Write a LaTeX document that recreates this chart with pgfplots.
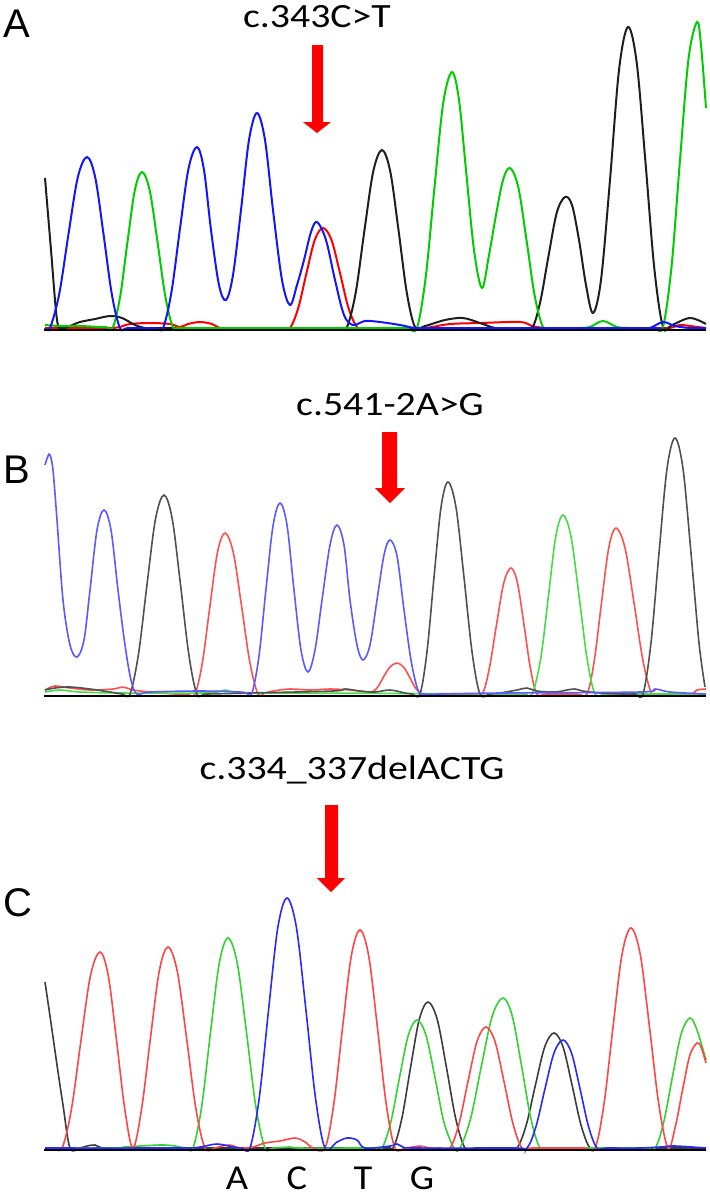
\documentclass[border=0pt]{standalone}
\usepackage{fontspec}
\setmainfont{Carlito}
\newfontfamily\panelfont{Liberation Sans}
\usepackage{graphicx}
\usepackage{pgfplots}
\pgfplotsset{compat=1.18}

\definecolor{tA}{RGB}{20,20,255}
\definecolor{gA}{RGB}{0,205,0}
\definecolor{kA}{RGB}{30,30,30}
\definecolor{rA}{RGB}{255,0,0}
\definecolor{tB}{RGB}{90,90,255}
\definecolor{gB}{RGB}{70,220,70}
\definecolor{kB}{RGB}{80,80,80}
\definecolor{rB}{RGB}{255,80,80}
\definecolor{tC}{RGB}{40,40,255}
\definecolor{gC}{RGB}{50,210,50}
\definecolor{kC}{RGB}{60,60,60}
\definecolor{rC}{RGB}{255,70,70}

\newcommand{\lab}[1]{\scalebox{1.17}[1]{\fontsize{17}{20}\selectfont #1}}
\newcommand{\base}[1]{\scalebox{1.1}[1]{\fontsize{17.5}{20}\selectfont #1}}

\begin{document}
\begin{tikzpicture}
\begin{axis}[
    width=354.5pt, height=598pt, scale only axis,
    xmin=0, xmax=709, ymin=0, ymax=1196, y dir=reverse,
    axis lines=none, clip=false,
    every axis plot/.append style={smooth, tension=0.55},
]
% keep the whole frame as the page
\path (rel axis cs:0,0) rectangle (rel axis cs:1,1);
% ---------- panel A ----------
\addplot[rA, line width=1pt] coordinates {
(45,328) (100,328) (112,328) (120,327) (130,324) (150,323) (170,324) (180,327) (188,324) (200,322) (212,324) (220,328)
(232,328) (270,328) (282,328) (290,328)
(298.25,308) (306.5,273) (314.75,240) (323,228) (331.5,240) (340,273) (348.5,308) (357,327)
(365,328) (377,328) (420,328) (432,327) (450,324) (480,323) (520,322) (532,326) (545,328) (557,328)
(658,328) (670,328) (680,325) (690,326) (706,328)};
\addplot[kA, line width=1pt] coordinates {
(45,178) (51,250) (57,320) (62,328) (70,326) (80,322) (95,319) (110,316) (122,318) (135,325) (145,328)
(157,328) (327,328) (339,328) (347,327)
(355.75,292.4) (364.5,230) (373.25,171.4) (382,150) (390.25,171.4) (398.5,230) (406.75,292.4) (415,327)
(425,326) (445,320) (463,318) (480,323) (495,328) (508,328) (520,328) (532,328)
(540.25,301.8) (548.5,256) (556.75,212.7) (565,197) (572,205) (579,240) (586,285) (593,313)
(601,280) (610,180) (619,70) (628,27) (636.75,63) (645.5,162.5) (654.25,267.8) (663,327)
(672,325) (690,318) (706,324)};
\addplot[gA, line width=1pt] coordinates {
(45,325) (60,326) (80,326) (100,327) (106,327) (113,327)
(120.25,296) (127.5,241.8) (134.75,190.6) (142,172) (149.75,190.6) (157.5,241.8) (165.25,296) (173,327)
(181,328) (193,328) (395,328) (408,328) (417,328)
(425.75,276.8) (434.5,187.2) (443.25,102.7) (452,72) (459,100) (466,170) (474,250) (482,288)
(489,255) (496,215) (503,180) (510,168) (518.25,187) (526.5,240) (534.75,296) (543,327)
(551,328) (565,328) (580,328) (590,327) (603,321) (617,327) (630,328) (645,328) (655,328) (663,327)
(671.5,267) (680,160) (688.5,59) (697,22) (701,45) (706,108)};
\addplot[tA, line width=1pt] coordinates {
(45,328) (50,328) (59.25,293.8) (68.5,234) (77.75,177.5) (87,157) (95.25,177.5) (103.5,234) (111.75,293.8) (120,328)
(128,328) (155,328) (163,328)
(171.5,291.8) (180,228.5) (188.5,168.7) (197,147) (204,170) (211,230) (219,285) (226,300)
(233,275) (241,210) (249,140) (257,113) (265,140) (273,210) (282,280) (290,305)
(297,285) (304,260) (311,232) (317,222) (326,240) (335,280) (344,315) (353,325)
(365,321) (380,322) (400,325) (415,328) (430,328) (640,328) (650,328) (663,322) (675,326) (690,328) (706,328)};
\addplot[black, line width=0.9pt, sharp plot] coordinates {(44,330) (706,330)};
% ---------- panel B ----------
\addplot[rB, line width=0.8pt] coordinates {
(45,690) (55,686) (70,688) (90,690) (113,689) (123,687) (133,690) (150,692) (175,694) (187,694) (195,694)
(202.5,661.8) (210,605.5) (217.5,552.3) (225,533) (233.25,552.3) (241.5,605.5) (249.75,661.8) (258,694)
(265,693) (273,691) (290,689) (310,690) (330,689) (350,690) (370,692)
(377,688) (383.5,677) (390,667) (397,663) (403.5,667) (409.5,677) (415.5,688) (422,694)
(432,694) (470,694) (482,694)
(489.25,668.8) (496.5,624.7) (503.75,583.1) (511,568) (517.5,583.1) (524,624.7) (530.5,668.8) (537,694)
(547,694) (577,694) (587,694)
(594.25,660.8) (601.5,602.7) (608.75,547.9) (616,528) (625,547.9) (634,602.7) (643,660.8) (652,694)
(662,694) (690,694) (697,690) (706,689)};
\addplot[gB, line width=0.8pt] coordinates {
(45,692) (60,690) (80,692) (120,693) (205,693) (217,692) (225,690) (233,692) (245,693) (300,693)
(510,694) (522,694) (532,694)
(540.75,658.2) (548.5,595.5) (555.75,536.5) (563,515) (571,536.5) (579,595.5) (587,658.2) (595,694)
(605,694) (620,694) (706,694)};
\addplot[kB, line width=0.8pt] coordinates {
(45,690) (55,688) (70,687) (90,689) (110,692) (122,694) (130,694)
(138.5,654) (147,584.6) (155.5,519) (164,495) (172.25,519) (180.5,584.6) (188.75,654) (197,694)
(207,694) (250,693) (333,691) (345,689) (360,691) (375,692) (390,690) (405,693) (412,694) (420,694)
(427,651.6) (434,577.4) (441,507.4) (448,482) (456,507.4) (464,577.4) (472,651.6) (480,694)
(490,694) (500,693) (517,690) (527,688) (537,691) (555,692) (567,690) (575,689) (583,691) (600,693)
(623,694) (635,694) (643,694)
(651,642.8) (659,553) (667,468.7) (675,438) (683,468.7) (691,553) (699,642.8) (705,687)};
\addplot[tB, line width=0.8pt] coordinates {
(45,465) (48,456) (50,455) (53,470) (57,520) (63,600) (70,645) (77,657) (84,640) (90,590) (97,530) (104,510)
(111,530) (118,590) (125,645) (131,680) (137,694) (150,692) (200,691) (240,692) (246,693) (252,693)
(259,656) (266,589) (273,526) (280,503) (287,525) (294,590) (301,650) (308,672)
(315,650) (322,600) (330,545) (337,525) (344,545) (350,600) (357,645) (363,660)
(370,645) (377,600) (384,555) (390,540) (397,556) (404,610) (411,660) (418,690)
(425,694) (440,694) (500,693) (640,692) (655,689) (670,692) (706,694)};
\addplot[black, line width=0.9pt, sharp plot] coordinates {(44,696) (706,696)};
% ---------- panel C ----------
\addplot[kC, line width=0.8pt] coordinates {
(45,982) (51,1023) (57,1065) (63,1105) (70,1148) (80,1148) (87,1146) (95,1145) (102,1148) (115,1148)
(370,1148) (383,1148) (393,1148)
(401.75,1118.8) (410.5,1067.7) (419.25,1019.5) (428,1002) (437.25,1019.5) (446.5,1067.7) (455.75,1118.8) (465,1148)
(475,1148) (495,1148) (507,1148) (517,1148)
(526.25,1125) (535.5,1084.75) (544.75,1046.8) (554,1033) (563,1046.8) (572,1084.75) (581,1125) (590,1148)
(600,1148) (620,1148) (706,1148)};
\addplot[gC, line width=0.8pt] coordinates {
(45,1148) (115,1148) (125,1147) (160,1145) (175,1146) (185,1148) (193,1148)
(201.75,1106) (210.5,1032.5) (219.25,963.2) (228,938) (237.25,963.2) (246.5,1032.5) (255.75,1106) (265,1148)
(273,1148) (290,1147) (300,1148) (362,1148) (374,1148) (382,1148)
(390.75,1122.4) (399.5,1077.6) (408.25,1035.4) (417,1020) (426,1035.4) (435,1077.6) (444,1122.4) (454,1148)
(460,1148)
(470.75,1118) (481.5,1065.5) (492.25,1016) (503,998) (512.25,1016) (521.5,1065.5) (530.75,1118) (540,1148)
(550,1148) (600,1148) (643,1148) (655,1148)
(663.75,1122) (672.5,1076.5) (681.25,1033.6) (690,1018) (697,1030) (706,1060)};
\addplot[rC, line width=0.8pt] coordinates {
(45,1148) (52,1148) (62,1148)
(71.5,1108.8) (81,1040.2) (90.5,975.5) (100,952) (108.25,975.5) (116.5,1040.2) (124.75,1108.8) (133,1148)
(141.75,1107.8) (150.5,1037.5) (159.25,971.1) (168,947) (177.25,971.1) (186.5,1037.5) (195.75,1107.8) (205,1148)
(215,1148) (222,1146) (230,1145) (240,1148) (253,1147) (265,1143) (280,1141) (295,1138) (305,1142) (313,1148) (325,1148)
(333.75,1104.4) (342.5,1028.1) (351.25,956.2) (360,930) (368.75,956.2) (377.5,1028.1) (386.25,1104.4) (395,1148)
(405,1148) (413,1147) (420,1146) (430,1148) (440,1148) (450,1148)
(459,1123.8) (468,1081.5) (477,1041.5) (486,1027) (495,1041.5) (504,1081.5) (513,1123.8) (522,1148)
(532,1148) (583,1148) (595,1148)
(604,1104) (613,1027) (622,954.4) (631,928) (640.25,954.4) (649.5,1027) (658.75,1104) (668,1148)
(675.25,1127) (682.5,1090.25) (689.75,1055.6) (697,1043) (701,1047) (706,1063)};
\addplot[tC, line width=0.8pt] coordinates {
(45,1148) (180,1148) (200,1147) (217,1144) (233,1147) (242,1148) (250,1148)
(259.25,1098) (268.5,1010.5) (277.75,928) (287,898) (296.5,928) (306,1010.5) (315.5,1098) (325,1148)
(337,1142) (347,1138) (357,1140) (365,1148) (390,1146) (397,1144) (403,1147) (415,1148) (515,1148) (527,1148)
(536,1126.4) (545,1088.6) (554,1053) (563,1040) (571.5,1053) (580,1088.6) (588.5,1126.4) (597,1148)
(607,1148) (640,1148) (660,1147) (675,1146) (706,1148)};
\addplot[black, line width=0.9pt, sharp plot] coordinates {(44,1150) (706,1150)};

% ---------- arrows ----------
\fill[red] (axis cs:312,45) -- (axis cs:323,45) -- (axis cs:323,122) -- (axis cs:331,122)
  -- (axis cs:317,133) -- (axis cs:303,122) -- (axis cs:312,122) -- cycle;
\fill[red] (axis cs:382,432) -- (axis cs:397,432) -- (axis cs:397,488) -- (axis cs:405,488)
  -- (axis cs:390,503) -- (axis cs:375,488) -- (axis cs:382,488) -- cycle;
\fill[red] (axis cs:325,805) -- (axis cs:338,805) -- (axis cs:338,878) -- (axis cs:345,878)
  -- (axis cs:331,892) -- (axis cs:317,878) -- (axis cs:325,878) -- cycle;

% ---------- labels ----------
\node[anchor=base, inner sep=0pt] at (axis cs:317,27) {\lab{c.343C>T}};
\node[anchor=base, inner sep=0pt] at (axis cs:390,415) {\lab{c.541-2A>G}};
\node[anchor=base, inner sep=0pt] at (axis cs:352,779) {\lab{c.334\_337delACTG}};
\node[anchor=base, inner sep=0pt] at (axis cs:17,37) {\panelfont\fontsize{20}{24}\selectfont A};
\node[anchor=base, inner sep=0pt] at (axis cs:17,483) {\panelfont\fontsize{20}{24}\selectfont B};
\node[anchor=base, inner sep=0pt] at (axis cs:18,916) {\panelfont\fontsize{20}{24}\selectfont C};
\node[anchor=base, inner sep=0pt] at (axis cs:237,1189) {\base{A}};
\node[anchor=base, inner sep=0pt] at (axis cs:297,1189) {\base{C}};
\node[anchor=base, inner sep=0pt] at (axis cs:363,1189) {\base{T}};
\node[anchor=base, inner sep=0pt] at (axis cs:422,1189) {\base{G}};
\end{axis}
\end{tikzpicture}
\end{document}
